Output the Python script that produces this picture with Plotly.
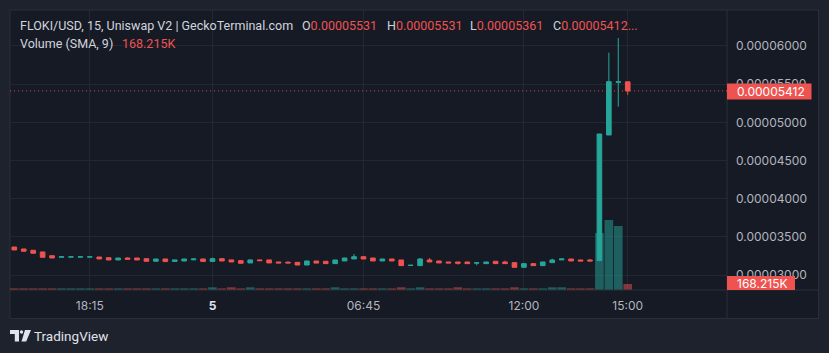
import plotly.graph_objects as go

# ---------------- data (prices in units of 1e-6 USD) ----------------
open_u = [33.69, 33.43, 33.26, 33.04, 32.55, 32.36, 32.37, 32.37, 32.37, 32.38,
          32.29, 31.99, 32.25, 32.25, 32.16, 31.82, 32.12, 31.80, 31.86, 32.02,
          32.12, 31.80, 32.16, 32.00, 31.90, 31.60, 32.00, 32.00, 31.73, 31.70,
          31.68, 31.33, 31.86, 31.82, 31.51, 31.86, 32.12, 32.42, 32.25, 31.86,
          32.12, 31.99, 31.27, 31.25, 31.99, 31.86, 31.73, 31.73, 31.73, 31.58,
          31.51, 31.82, 31.73, 31.64, 31.03, 31.51, 31.25, 31.64, 32.00, 32.12,
          31.99, 31.99, 31.90, 48.35, 55.25, 55.31]
high_u = [33.69, 33.43, 33.26, 33.04, 32.55, 32.48, 32.40, 32.40, 32.40, 32.38,
          32.34, 32.25, 32.34, 32.25, 32.20, 32.12, 32.12, 32.00, 32.12, 32.16,
          32.12, 32.30, 32.16, 32.00, 31.90, 32.00, 32.00, 32.00, 31.73, 31.80,
          31.68, 31.86, 31.86, 31.82, 31.99, 32.25, 32.78, 32.42, 32.25, 32.12,
          32.12, 31.99, 31.30, 32.25, 32.25, 31.86, 31.73, 31.73, 31.73, 31.62,
          31.73, 31.82, 31.90, 31.64, 31.51, 31.51, 31.73, 32.16, 32.12, 32.12,
          31.99, 32.12, 48.48, 59.12, 61.05, 55.31]
low_u = [33.30, 33.13, 32.87, 32.34, 32.25, 32.36, 32.37, 32.37, 32.37, 32.12,
         31.99, 31.99, 32.08, 31.99, 31.82, 31.82, 31.78, 31.80, 31.80, 31.92,
         31.80, 31.80, 31.86, 31.73, 31.56, 31.60, 31.90, 31.60, 31.60, 31.58,
         31.33, 31.33, 31.58, 31.51, 31.51, 31.86, 32.12, 32.12, 31.86, 31.86,
         31.86, 31.25, 31.27, 31.25, 31.73, 31.60, 31.60, 31.38, 31.51, 31.30,
         31.51, 31.51, 31.51, 31.03, 31.03, 31.25, 31.25, 31.64, 32.00, 31.86,
         31.86, 31.86, 31.90, 48.35, 52.06, 53.61]
close_u = [33.30, 33.13, 32.87, 32.34, 32.25, 32.40, 32.40, 32.40, 32.40, 32.12,
           31.99, 32.25, 32.08, 31.99, 31.82, 32.12, 31.78, 32.00, 32.12, 32.12,
           31.80, 32.16, 31.86, 31.73, 31.56, 32.00, 31.90, 31.60, 31.60, 31.60,
           31.33, 31.86, 31.58, 31.51, 31.99, 32.25, 32.42, 32.12, 31.86, 32.12,
           31.86, 31.25, 31.30, 32.12, 31.73, 31.60, 31.60, 31.56, 31.51, 31.62,
           31.73, 31.51, 31.51, 31.03, 31.51, 31.25, 31.73, 31.99, 32.12, 31.86,
           31.86, 31.86, 48.48, 55.33, 55.31, 54.12]
volume_k = [45, 45, 45, 45, 45, 45, 45, 45, 45, 45,
            45, 45, 45, 45, 45, 45, 45, 45, 45, 45,
            45, 75, 45, 75, 45, 75, 45, 45, 45, 45,
            45, 45, 45, 45, 75, 45, 45, 45, 45, 45,
            45, 75, 45, 75, 45, 45, 45, 75, 45, 45,
            45, 45, 45, 75, 45, 45, 45, 75, 75, 45,
            45, 45, 1598, 1962, 1794, 168.215]
tick_idx = [8, 21, 37, 54, 65]
tick_text = ["18:15", "<b><span style='color:#e0e3eb'>5</span></b>", "06:45", "12:00", "15:00"]
price_ticks_u = [30, 35, 40, 45, 50, 55, 60]
last_price_u = 54.12
last_volume_k = 168.215

# ---------------- derived ----------------
U = 1e-6
n = len(open_u)
xs = list(range(n))
o = [v * U for v in open_u]
h = [v * U for v in high_u]
l = [v * U for v in low_u]
c = [v * U for v in close_u]
vol = [v * 1000 for v in volume_k]

GREEN = "#26a69a"
RED = "#ef5350"
PANE = "#161a25"
OUTER = "#1e222d"
GRID = "#232733"
BORDER = "#2a2e39"
TXT = "#d1d4dc"
AXT = "#b2b5be"
FONT = "Roboto"

vol_colors = ["rgba(38,166,154,0.5)" if cc >= oo else "rgba(239,83,80,0.5)"
              for oo, cc in zip(o, c)]


def px(x):
    return (x - 10) / 717


def py(y):
    return (290 - y) / 280


fig = go.Figure()
fig.add_trace(go.Bar(x=xs, y=vol, marker=dict(color=vol_colors, line=dict(width=0)),
                     yaxis="y2", showlegend=False, hoverinfo="skip"))
fig.add_trace(go.Candlestick(
    x=xs, open=o, high=h, low=l, close=c,
    increasing=dict(line=dict(color=GREEN, width=1), fillcolor=GREEN),
    decreasing=dict(line=dict(color=RED, width=1), fillcolor=RED),
    showlegend=False, hoverinfo="skip"))

fig.update_layout(
    width=829, height=353,
    margin=dict(l=10, r=102, t=10, b=63),
    paper_bgcolor=OUTER, plot_bgcolor=PANE,
    bargap=0.08,
    xaxis=dict(range=[-0.456, 75.52], tickvals=tick_idx, ticktext=tick_text,
               showgrid=True, gridcolor=GRID, gridwidth=1, zeroline=False,
               showline=False, ticks="", rangeslider=dict(visible=False),
               tickfont=dict(family="Inter", size=12, color=AXT),
               ticklabelstandoff=7),
    yaxis=dict(side="right", range=[28.06 * U, 64.71 * U],
               tickvals=[v * U for v in price_ticks_u],
               ticktext=["%.8f" % (v * U) for v in price_ticks_u],
               showgrid=True, gridcolor=GRID, zeroline=False, showline=False,
               ticks="", tickfont=dict(family="Inter", size=12, color=AXT),
               ticklabelstandoff=8),
    yaxis2=dict(overlaying="y", range=[0, last_volume_k * 1000 * 280 / 6],
                visible=False),
    font=dict(family=FONT),
)

last_y_px = 46 + (60 - last_price_u) * 7.64  # pixel row of last price (for label box)

shapes = [
    dict(type="rect", xref="paper", yref="paper", x0=px(10), x1=px(818.5),
         y0=py(318.5), y1=py(10), fillcolor=PANE, line=dict(color=BORDER, width=1),
         layer="below"),
    dict(type="line", xref="paper", yref="paper", x0=px(727), x1=px(727),
         y0=py(318.5), y1=py(10), line=dict(color=BORDER, width=1), layer="above"),
    dict(type="line", xref="paper", yref="paper", x0=px(10), x1=px(818.5),
         y0=py(290), y1=py(290), line=dict(color=BORDER, width=1), layer="above"),
    dict(type="line", xref="paper", yref="y", x0=0, x1=1,
         y0=last_price_u * U, y1=last_price_u * U,
         line=dict(color="rgba(239,83,80,0.85)", width=1, dash="1px,3px"), layer="above"),
    dict(type="rect", xref="paper", yref="paper", x0=px(727), x1=px(811.5),
         y0=py(last_y_px + 8.5), y1=py(last_y_px - 7.5), fillcolor=RED,
         line=dict(width=0), layer="above"),
    dict(type="rect", xref="paper", yref="paper", x0=px(727), x1=px(795),
         y0=py(290), y1=py(276), fillcolor=RED, line=dict(width=0), layer="above"),
]


def path(pts):
    s = "M " + " L ".join("%f,%f" % (px(a), py(b)) for a, b in pts) + " Z"
    return s


LOGO = "#e0e3eb"
shapes.append(dict(type="path", xref="paper", yref="paper",
                   path=path([(10, 330), (19, 330), (19, 341.5), (14.8, 341.5), (14.8, 334), (10, 334)]),
                   fillcolor=LOGO, line=dict(width=0)))
shapes.append(dict(type="circle", xref="paper", yref="paper",
                   x0=px(19.8), x1=px(23.2), y0=py(333.7), y1=py(330.3),
                   fillcolor=LOGO, line=dict(width=0)))
shapes.append(dict(type="path", xref="paper", yref="paper",
                   path=path([(25, 330), (31, 330), (26.2, 341.5), (21.5, 341.5)]),
                   fillcolor=LOGO, line=dict(width=0)))
fig.update_layout(shapes=shapes)

ann = []


def add_text(x, y, text, color=TXT, size=12.5, family=FONT):
    ann.append(dict(xref="paper", yref="paper", x=px(x), y=py(y), text=text,
                    showarrow=False, xanchor="left", yanchor="middle",
                    font=dict(family=family, size=size, color=color)))


add_text(18, 25.5, "FLOKI/USD, 15, Uniswap V2 | GeckoTerminal.com")
add_text(300, 25.5, "O<span style='color:%s'>0.00005531</span>" % RED)
add_text(385, 25.5, "H<span style='color:%s'>0.00005531</span>" % RED)
add_text(468, 25.5, "L<span style='color:%s'>0.00005361</span>" % RED)
add_text(551, 25.5, "C<span style='color:%s'>0.00005412...</span>" % RED)
add_text(18, 43.5, "Volume (SMA, 9)")
add_text(120, 43.5, "168.215K", color=RED)
add_text(32, 336, "TradingView", color=LOGO, size=13.5)
add_text(735, last_y_px + 0.5, "0.00005412", color="#ffffff", size=12, family="Inter")
add_text(735, 283, "168.215K", color="#ffffff", size=12, family="Inter")
fig.update_layout(annotations=ann)

fig.write_html("out.html")
